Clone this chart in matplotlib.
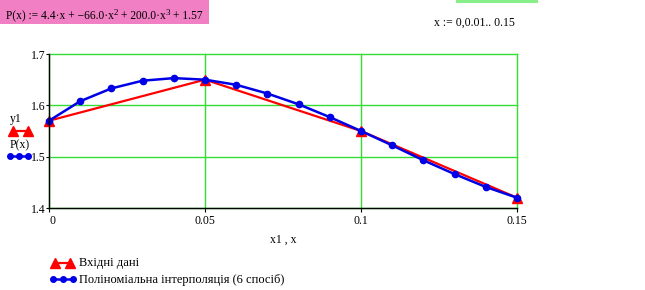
import numpy as np
import matplotlib.pyplot as plt
from matplotlib.patches import Rectangle

plt.rcParams['font.family'] = ['Liberation Serif', 'DejaVu Serif']

# input nodes (y1) and polynomial values P(x)
x1 = [0.0, 0.05, 0.10, 0.15]
y1 = [1.57, 1.65, 1.55, 1.42]
x_poly = [0.00, 0.01, 0.02, 0.03, 0.04, 0.05, 0.06, 0.07,
          0.08, 0.09, 0.10, 0.11, 0.12, 0.13, 0.14, 0.15]
p_poly = [1.570, 1.608, 1.633, 1.648, 1.653, 1.650, 1.640, 1.623,
          1.602, 1.577, 1.550, 1.522, 1.493, 1.466, 1.441, 1.420]
x_ticks = [0, 0.05, 0.1, 0.15]
x_tick_labels = ['0', '0.05', '0.1', '0.15']
y_ticks = [1.4, 1.5, 1.6, 1.7]
y_tick_labels = ['1.4', '1.5', '1.6', '1.7']

RED = '#ff0000'
BLUE = '#0000e6'
GRID = '#33dd33'

W, H = 645, 290
fig = plt.figure(figsize=(W / 100, H / 100), dpi=100)
fig.patch.set_facecolor('white')

# axes box in pixel coords
left, right, top, bottom = 49, 517, 54, 208
ax = fig.add_axes([left / W, (H - bottom) / H, (right - left) / W, (bottom - top) / H])

ax.plot(x1, y1, color=RED, lw=1.6, marker='^', ms=6.5, zorder=3, clip_on=False)
ax.plot(x_poly, p_poly, color=BLUE, lw=1.8, marker='o', ms=4.5, zorder=4, clip_on=False)

ax.set_xlim(0, 0.15)
ax.set_ylim(1.4, 1.7)
ax.set_xticks(x_ticks)
ax.set_xticklabels(x_tick_labels, fontsize=8.5)
ax.set_yticks(y_ticks)
ax.set_yticklabels(y_tick_labels, fontsize=8.5)
ax.get_xticklabels()[0].set_horizontalalignment('left')
ax.tick_params(axis='x', length=3, width=0.8, color='black', pad=2)
ax.tick_params(axis='y', length=2, width=0.8, color='black', pad=0.5)
ax.grid(True, color=GRID, lw=1.0)
for gl in ax.get_xgridlines() + ax.get_ygridlines():
    gl.set_clip_on(False)
for s in ['top', 'right']:
    ax.spines[s].set_visible(False)
for s in ['left', 'bottom']:
    ax.spines[s].set_color('black')
    ax.spines[s].set_linewidth(1.0)
    ax.spines[s].set_zorder(5)

ax.set_xlabel('x1 , x', fontsize=8.5, labelpad=5)


def px(x, y):
    return x / W, 1 - y / H


# pink formula box
fig.patches.append(Rectangle(px(0, 24), 209 / W, 24 / H, transform=fig.transFigure,
                             facecolor='#f07fc4', edgecolor='none', zorder=0))
# formula pieces: (text, raise in points); raised pieces are exponents
pieces = [('P(x) := 4.4·x + −66.0·x', 0), ('2', 3.5), (' + 200.0·x', -3.5), ('3', 3.5), (' + 1.57', -3.5)]
prev = fig.text(*px(6, 19), pieces[0][0], fontsize=8.3, va='baseline', ha='left')
for txt, dy in pieces[1:]:
    size = 6.5 if dy > 0 else 8.3
    prev = fig.add_artist(plt.Annotation(txt, xy=(1, 0), xycoords=prev,
                                         xytext=(0, dy), textcoords='offset points',
                                         fontsize=size, va='bottom', ha='left'))

# green box at top right
fig.patches.append(Rectangle(px(456, 3), 82 / W, 3 / H, transform=fig.transFigure,
                             facecolor='#88ee88', edgecolor='none', zorder=0))
fig.text(*px(434, 26), 'x := 0,0.01.. 0.15', fontsize=8.5, va='baseline', ha='left')

# left legend
fig.text(*px(10, 122), 'y1', fontsize=8.5, va='baseline', ha='left')
fig.lines.append(plt.Line2D([13 / W, 28 / W], [1 - 131 / H] * 2, transform=fig.transFigure,
                            color=RED, lw=1.6, marker='^', ms=6.5))
fig.text(*px(10, 148), 'P(x)', fontsize=8.5, va='baseline', ha='left')
fig.lines.append(plt.Line2D([10 / W, 19 / W, 28 / W], [1 - 156 / H] * 3, transform=fig.transFigure,
                            color=BLUE, lw=1.8, marker='o', ms=4.0))

# bottom legend
fig.lines.append(plt.Line2D([55 / W, 70 / W], [1 - 263 / H] * 2, transform=fig.transFigure,
                            color=RED, lw=1.6, marker='^', ms=6.5))
fig.text(*px(79, 266), 'Вхідні дані', fontsize=9, va='baseline', ha='left')
fig.lines.append(plt.Line2D([53 / W, 63 / W, 73 / W], [1 - 279 / H] * 3, transform=fig.transFigure,
                            color=BLUE, lw=1.8, marker='o', ms=4.0))
fig.text(*px(79, 283), 'Поліноміальна інтерполяція (6 спосіб)', fontsize=9, va='baseline', ha='left')

fig.savefig('out.png', dpi=100)
